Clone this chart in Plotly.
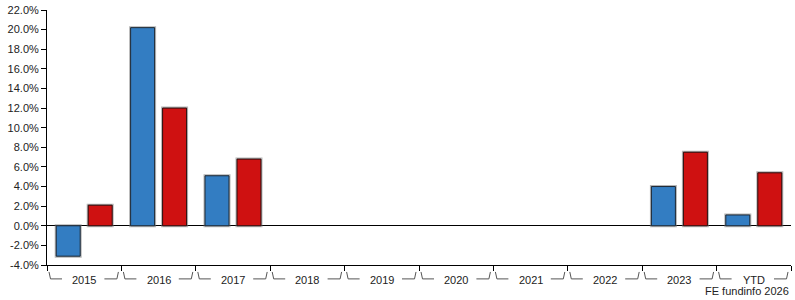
import plotly.graph_objects as go

categories = ["2015", "2016", "2017", "2018", "2019", "2020", "2021", "2022", "2023", "YTD"]
fund_values = [-3.1, 20.2, 5.1, None, None, None, None, None, 4.0, 1.1]
sector_values = [2.1, 12.0, 6.8, None, None, None, None, None, 7.5, 5.4]
y_ticks = [-4, -2, 0, 2, 4, 6, 8, 10, 12, 14, 16, 18, 20, 22]

W, H = 795, 300
ML, MR, MT, MB = 47, 4, 8, 35
plot_w = W - ML - MR
plot_h = H - MT - MB
n = len(categories)
px_x = n / plot_w          # data units per pixel in x
px_y = 1.0 / plot_h        # paper units per pixel in y

xs = list(range(n))
fig = go.Figure()
# soft halo behind bars
fig.add_trace(go.Bar(x=xs, y=fund_values, offsetgroup="fund", hoverinfo="skip",
                     marker=dict(color="#337DC2", line=dict(color="rgba(120,120,120,0.55)", width=3))))
fig.add_trace(go.Bar(x=xs, y=sector_values, offsetgroup="sector", hoverinfo="skip",
                     marker=dict(color="#CF1111", line=dict(color="rgba(120,120,120,0.55)", width=3))))
fig.add_trace(go.Bar(x=xs, y=fund_values, name="Fund", offsetgroup="fund",
                     marker=dict(color="#337DC2", line=dict(color="#1f2a36", width=1))))
fig.add_trace(go.Bar(x=xs, y=sector_values, name="Sector", offsetgroup="sector",
                     marker=dict(color="#CF1111", line=dict(color="#2a1010", width=1))))

shapes = []
annotations = []
for i, c in enumerate(categories):
    left = i - 0.5
    right = i + 0.5
    yt = -7 * px_y
    yb = -14 * px_y
    shapes.append(dict(type="path", xref="x", yref="paper",
                       path=f"M {left + 2*px_x} {yt} L {left + 3.5*px_x} {yb} L {left + 15*px_x} {yb}",
                       line=dict(color="#555555", width=1)))
    shapes.append(dict(type="path", xref="x", yref="paper",
                       path=f"M {right - 17*px_x} {yb} L {right - 4.5*px_x} {yb} L {right - 3*px_x} {yt}",
                       line=dict(color="#555555", width=1)))
    annotations.append(dict(x=i, y=-15.5 * px_y, xref="x", yref="paper", text=c, showarrow=False,
                            xanchor="center", yanchor="middle",
                            font=dict(family="Liberation Sans, Arial", size=11, color="#222222")))

annotations.append(dict(x=1, y=-26 * px_y, xref="paper", yref="paper", text="FE fundinfo 2026",
                        showarrow=False, xanchor="right", yanchor="middle",
                        font=dict(family="Liberation Sans, Arial", size=11, color="#222222")))

fig.update_layout(
    width=W, height=H,
    margin=dict(l=ML, r=MR, t=MT, b=MB),
    paper_bgcolor="white", plot_bgcolor="white",
    barmode="group", bargap=0.14, bargroupgap=0.25,
    showlegend=False,
    shapes=shapes, annotations=annotations,
    font=dict(family="Liberation Sans, Arial", size=11, color="#222222"),
    xaxis=dict(range=[-0.5, n - 0.5], tickvals=[i - 0.5 for i in range(n + 1)],
               ticktext=["" for _ in range(n + 1)], ticks="outside", ticklen=5,
               tickcolor="#000000", showline=True, linecolor="#000000", linewidth=1,
               showgrid=False, zeroline=False, fixedrange=True),
    yaxis=dict(range=[-4, 22], tickvals=y_ticks,
               ticktext=[f"{v:.1f}%" for v in y_ticks], ticks="outside", ticklen=5,
               tickcolor="#000000", showline=True, linecolor="#000000", linewidth=1,
               showgrid=False, zeroline=True, zerolinecolor="#000000", zerolinewidth=1,
               fixedrange=True),
)

fig.write_html("out.html", config={"displayModeBar": False})
